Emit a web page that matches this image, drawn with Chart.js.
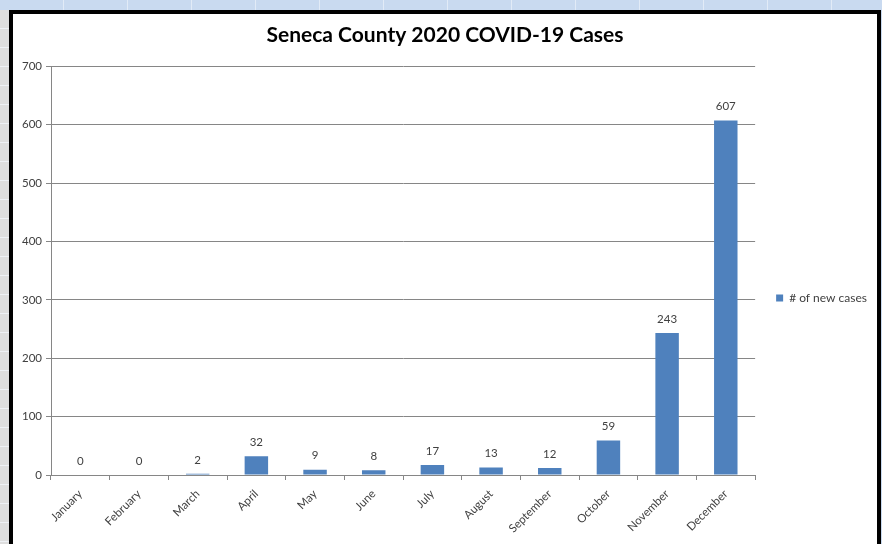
<!DOCTYPE html>
<html>
<head>
<meta charset="utf-8">
<script src="https://cdn.jsdelivr.net/npm/chart.js@4/dist/chart.umd.min.js"></script>
<style>
  html, body { margin: 0; padding: 0; }
  body { width: 882px; height: 544px; overflow: hidden; position: relative;
         background: #c9daf0; }
  #leftstrip { position: absolute; left: 0; top: 10px; width: 9px; height: 534px;
               background: repeating-linear-gradient(to bottom, #dedede 0px, #dedede 18px, #eef1f5 18px, #eef1f5 19px); }
  #topstrip { position: absolute; left: 0; top: 0; width: 882px; height: 10px;
              background: repeating-linear-gradient(to right, #c9daf0 0px, #c9daf0 63px, #e2ebf7 63px, #e2ebf7 64px); }
  #frame { position: absolute; left: 9px; top: 10px; width: 864px; height: 600px;
           border: 4px solid #000; background: #fff; }
  #wrap { position: absolute; left: 13px; top: 14px; width: 864px; height: 600px; }
</style>
</head>
<body>
<div id="topstrip"></div>
<div id="leftstrip"></div>
<div id="frame"></div>
<div id="wrap"><canvas id="c"></canvas></div>
<script>
const chartTitle = "Seneca County 2020 COVID-19 Cases";
const seriesName = "# of new cases";
const months = ["January","February","March","April","May","June","July","August","September","October","November","December"];
const newCases = [0, 0, 2, 32, 9, 8, 17, 13, 12, 59, 243, 607];
const yTicks = [0, 100, 200, 300, 400, 500, 600, 700];

const FONT = "Lato, 'Liberation Sans', sans-serif";

const valueLabels = {
  id: 'valueLabels',
  afterDatasetsDraw(chart) {
    const ctx = chart.ctx;
    const meta = chart.getDatasetMeta(0);
    const yScale = chart.scales.y;
    ctx.save();
    ctx.font = "11.5px " + FONT;
    ctx.fillStyle = "#404040";
    ctx.textAlign = "center";
    ctx.textBaseline = "middle";
    meta.data.forEach((bar, i) => {
      const v = chart.data.datasets[0].data[i];
      ctx.fillText(String(v), bar.x, yScale.getPixelForValue(v) - 14);
    });
    ctx.restore();
  }
};

new Chart(document.getElementById('c'), {
  type: 'bar',
  data: {
    labels: months,
    datasets: [{
      label: seriesName,
      data: newCases,
      backgroundColor: '#4f81bd',
      borderWidth: 0,
      barPercentage: 0.4,
      categoryPercentage: 1.0
    }]
  },
  options: {
    responsive: true,
    maintainAspectRatio: false,
    animation: false,
    devicePixelRatio: 1,
    layout: { padding: { left: 0, right: 0, top: 0, bottom: 32 } },
    plugins: {
      title: {
        display: true,
        text: chartTitle,
        color: '#000',
        font: { family: FONT, size: 21, weight: 'bold' },
        padding: { top: 9, bottom: 18 }
      },
      legend: {
        display: true,
        position: 'right',
        labels: {
          boxWidth: 7, boxHeight: 7,
          padding: 21,
          color: '#404040',
          font: { family: FONT, size: 12 }
        }
      },
      tooltip: { enabled: false }
    },
    scales: {
      x: {
        grid: { display: true, drawOnChartArea: false, drawTicks: true, tickLength: 5, color: '#868686', offset: true },
        border: { display: true, color: '#868686' },
        ticks: { color: '#404040', font: { family: FONT, size: 11.5 }, minRotation: 45, maxRotation: 45, padding: 7, autoSkip: false },
        afterFit(scale) { scale.height = 107; }
      },
      y: {
        min: 0, max: 700,
        afterBuildTicks(scale) { scale.ticks = yTicks.map(v => ({ value: v })); },
        grid: { color: '#868686', tickLength: 5, drawTicks: true },
        border: { display: true, color: '#868686' },
        ticks: { color: '#404040', font: { family: FONT, size: 11.5 }, padding: 4 },
        afterFit(scale) { scale.width = 38; }
      }
    }
  },
  plugins: [valueLabels]
});
</script>
</body>
</html>
